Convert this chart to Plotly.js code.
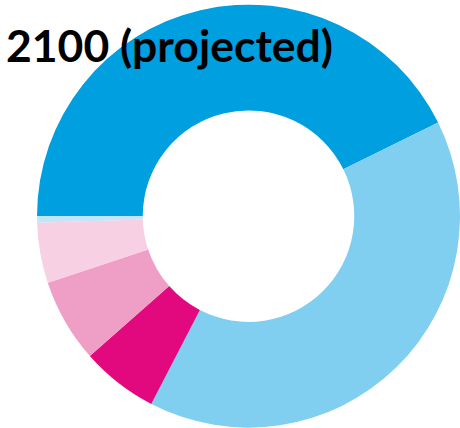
<!DOCTYPE html>
<html>
<head>
<meta charset="utf-8">
<script src="https://cdn.plot.ly/plotly-3.0.1.min.js"></script>
<style>html,body{margin:0;padding:0;overflow:hidden;background:#fff}</style>
</head>
<body>
<div id="chart" style="width:460px;height:428px"></div>
<script>
var categories = ["Segment A", "Segment B", "Segment C", "Segment D", "Segment E", "Segment F"];
var values = [42.7, 39.9, 5.9, 6.4, 4.6, 0.5];
var colors = ["#009FE0", "#80CEF0", "#E2097F", "#EF9FC6", "#F8D0E4", "#C2E5F7"];
var titleText = "2100 (projected)";

var trace = {
  type: "pie",
  labels: categories,
  values: values,
  hole: 0.5,
  sort: false,
  direction: "clockwise",
  rotation: 270,
  textinfo: "none",
  hoverinfo: "none",
  marker: {colors: colors, line: {width: 0}},
  domain: {x: [37/460, 1], y: [0, 0.99]}
};

var layout = {
  width: 460,
  height: 428,
  margin: {l: 0, r: 0, t: 0, b: 0},
  showlegend: false,
  paper_bgcolor: "#ffffff",
  title: {
    text: "<b>" + titleText + "</b>",
    font: {family: "Lato, sans-serif", size: 44.5, color: "#000000"},
    x: 6/460, xref: "container", xanchor: "left",
    y: 1 - 31/428, yref: "container", yanchor: "top"
  }
};

Plotly.newPlot("chart", [trace], layout, {staticPlot: true, displayModeBar: false});
</script>
</body>
</html>
